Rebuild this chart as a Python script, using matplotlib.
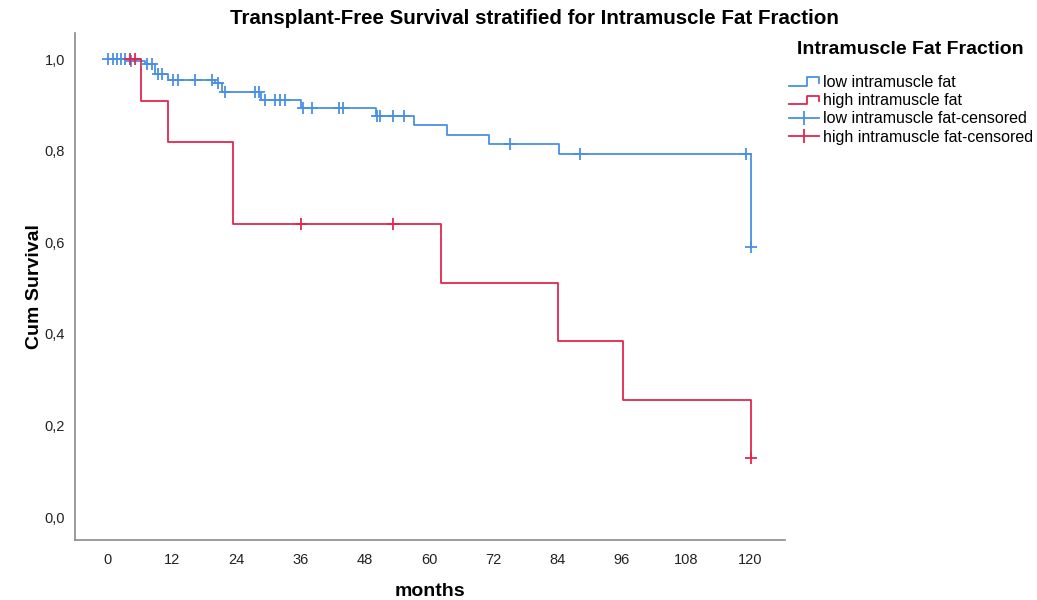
import numpy as np
import matplotlib
matplotlib.use('Agg')
import matplotlib.pyplot as plt
from matplotlib.lines import Line2D
from matplotlib.legend_handler import HandlerBase

plt.rcParams['font.family'] = ['Liberation Sans', 'DejaVu Sans']

# low intramuscle fat group (step times in months, survival after each step)
low_times = [0, 4.3, 7.0, 8.8, 11.2, 20.0, 21.3, 28.6, 36.1, 50.1, 57.2, 63.3, 71.2, 84.3, 120.2]
low_surv = [1.0, 0.995, 0.989, 0.967, 0.955, 0.947, 0.928, 0.911, 0.894, 0.876, 0.856, 0.834, 0.814, 0.793, 0.59]
low_censor = [0, 0.9, 1.7, 2.4, 3.2, 4.3, 7.3, 8.2, 9.3, 10.1, 12.1, 13.1, 16.3, 19.4, 20.6, 21.9,
              27.5, 28.2, 29.3, 31.2, 32.1, 33.1, 36.5, 38.1, 43.2, 44.0, 50.3, 50.8, 53.3, 55.3,
              75.1, 88.2, 119.3, 120.2]

# high intramuscle fat group
high_times = [0, 6.2, 11.2, 23.4, 62.2, 84.1, 96.3, 120.2]
high_surv = [1.0, 0.909, 0.818, 0.64, 0.512, 0.384, 0.256, 0.128]
high_censor = [4.1, 5.0, 36.0, 53.3, 120.2]

xticks = [0, 12, 24, 36, 48, 60, 72, 84, 96, 108, 120]
yticks = [0.0, 0.2, 0.4, 0.6, 0.8, 1.0]
labels = ['low intramuscle fat', 'high intramuscle fat',
          'low intramuscle fat-censored', 'high intramuscle fat-censored']

blue = '#4a90e2'
red = '#e3264f'


def surv_at(times, surv, t):
    i = np.searchsorted(times, t, side='right') - 1
    return np.array(surv)[i]


class StepHandler(HandlerBase):
    # step shaped legend key, like the SPSS one
    def create_artists(self, legend, orig_handle, xdescent, ydescent, width, height, fontsize, trans):
        x0 = -xdescent
        x1 = x0 + width
        xm = x0 + width * 0.6
        ylo = -ydescent + height * 0.1
        yhi = -ydescent + height * 0.85
        ln = Line2D([x0, xm, xm, x1, x1], [ylo, ylo, yhi, yhi, yhi - height * 0.45],
                    color=orig_handle.get_color(), lw=1.3)
        ln.set_transform(trans)
        return [ln]


fig = plt.figure(figsize=(10.37, 6), dpi=100)
ax = fig.add_axes([0.072, 0.1, 0.685, 0.845])

l1, = ax.step(low_times, low_surv, where='post', color=blue, lw=1.3)
l2, = ax.step(high_times, high_surv, where='post', color=red, lw=1.3)
ax.plot(low_censor, surv_at(low_times, low_surv, low_censor), '+', color=blue, ms=8, mew=1.3)
ax.plot(high_censor, surv_at(high_times, high_surv, high_censor), '+', color=red, ms=8, mew=1.3)

ax.set_xlim(-6.2, 126.5)
ax.set_ylim(-0.05, 1.057)
ax.set_xticks(xticks)
ax.set_yticks(yticks)
ax.set_yticklabels([('%.1f' % v).replace('.', ',') for v in yticks])
ax.tick_params(length=0, labelsize=10.5, colors='#222222')
ax.tick_params(axis='x', pad=9)
ax.tick_params(axis='y', pad=7)
for s in ['top', 'right']:
    ax.spines[s].set_visible(False)
for s in ['left', 'bottom']:
    ax.spines[s].set_color('#8a8a8a')
    ax.spines[s].set_linewidth(1.2)

ax.set_xlabel('months', fontsize=14, fontweight='bold', labelpad=12)
ax.set_ylabel('Cum Survival', fontsize=14, fontweight='bold', labelpad=1)
fig.text(0.515, 0.97, 'Transplant-Free Survival stratified for Intramuscle Fat Fraction',
         ha='center', va='center', fontsize=14.8, fontweight='bold')

# legend title drawn on its own, entries below
fig.text(797 / 1037, 1 - 50 / 600, 'Intramuscle Fat Fraction', ha='left', va='center',
         fontsize=14, fontweight='bold')
c1 = Line2D([], [], color=blue, lw=1.3, marker='|', ms=10, mew=1.3)
c2 = Line2D([], [], color=red, lw=1.3, marker='|', ms=10, mew=1.3)
fig.legend([l1, l2, c1, c2], labels,
           handler_map={l1: StepHandler(), l2: StepHandler()},
           loc='upper left', bbox_to_anchor=(789 / 1037, 1 - 75 / 600), frameon=False,
           fontsize=11.5, borderpad=0, borderaxespad=0,
           handlelength=1.9, handletextpad=0.25, labelspacing=0.2)

plt.savefig('out.png', dpi=100)
